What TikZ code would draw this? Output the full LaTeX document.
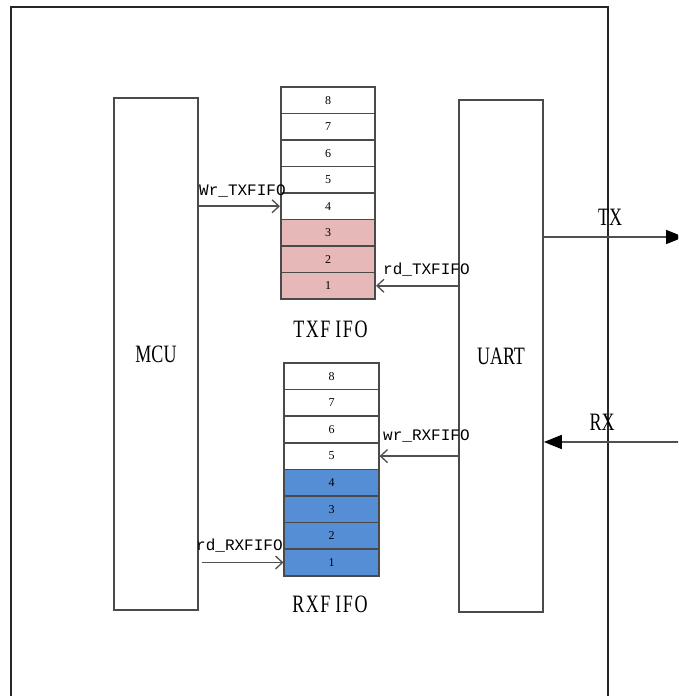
\documentclass[tikz,border=0pt]{standalone}
\usepackage{fontspec}
\setmainfont{Liberation Serif}
\newfontfamily\bigf[FakeStretch=0.72]{Liberation Serif}
\newfontfamily\monof{Liberation Mono}
\usetikzlibrary{arrows.meta}
\definecolor{boxc}{HTML}{4A4A4A}
\definecolor{framec}{HTML}{262626}
\definecolor{arrc}{HTML}{505050}
\definecolor{pinkc}{HTML}{E6B8B7}
\definecolor{bluec}{HTML}{558ED5}
\tikzset{
  blockbox/.style={draw=boxc, line width=1.7pt, minimum width=84pt, minimum height=512pt, inner sep=0pt, font=\bigf\fontsize{25}{25}\selectfont},
  cellbox/.style={draw=boxc, line width=1.6pt, minimum width=94.5pt, minimum height=26.5pt, inner sep=0pt, font=\fontsize{12}{12}\selectfont},
  sigarrow/.style={draw=arrc, line width=1.6pt, -{Straight Barb[length=7pt,width=13pt,line width=1.3pt]}},
  busarrow/.style={draw=arrc, line width=1.7pt, -{Triangle[length=18pt,width=14pt,color=black]}},
  siglabel/.style={inner sep=0pt, anchor=base west, font=\monof\fontsize{16}{16}\selectfont},
  biglabel/.style={inner sep=0pt, font=\bigf\fontsize{25}{25}\selectfont},
}
\begin{document}
\begin{tikzpicture}[x=1pt,y=-1pt]
\useasboundingbox (0,0) rectangle (678,696);
\clip (0,0) rectangle (678,696);
\fill[white] (0,0) rectangle (678,696);
% outer frame
\draw[framec, line width=1.3pt] (11,7) rectangle (608,720);
% blocks
\node[blockbox] (mcu) at (156,354) {MCU};
\node[blockbox] (uart) at (501,356) {UART};
% TXFIFO
\foreach \k in {1,...,8}{
  \pgfmathsetmacro{\yy}{87+(8-\k)*26.5+13.25}
  \ifnum\k<4
    \node[cellbox, fill=pinkc] (tx\k) at (328,\yy) {\k};
  \else
    \node[cellbox, fill=white] (tx\k) at (328,\yy) {\k};
  \fi
}
% RXFIFO
\foreach \k in {1,...,8}{
  \pgfmathsetmacro{\yy}{363+(8-\k)*26.6+13.3}
  \ifnum\k<5
    \node[cellbox, fill=bluec] (rx\k) at (331.5,\yy) {\k};
  \else
    \node[cellbox, fill=white] (rx\k) at (331.5,\yy) {\k};
  \fi
}
\node[biglabel] (txname) at (330.5,329) {T\kern1.5pt X\kern1.5pt F\kern5pt I\kern1.5pt F\kern1.5pt O};
\node[biglabel] (rxname) at (330,604) {R\kern1.5pt X\kern1.5pt F\kern5pt I\kern1.5pt F\kern1.5pt O};
% connectors
\draw[sigarrow] (mcu.east |- tx4.west) -- (tx4.west);
\draw[sigarrow] (uart.west |- tx1.east) -- (tx1.east);
\draw[sigarrow] (uart.west |- rx5.east) -- (rx5.east);
\draw[sigarrow, shorten <=3pt] (mcu.east |- rx1.west) -- (rx1.west);
\coordinate (txend) at (684,237);
\coordinate (rxstart) at (680,442);
\draw[busarrow] (uart.east |- txend) -- (txend);
\draw[busarrow] (rxstart) -- (uart.east |- rxstart);
% labels
\node[siglabel] (lwr) at (199,195) {Wr\_TXFIFO};
\node[siglabel] (lrdtx) at (383,274) {rd\_TXFIFO};
\node[siglabel] (lwrrx) at (383,440) {wr\_RXFIFO};
\node[siglabel] (lrdrx) at (196,550.5) {rd\_RXFIFO};
\node[biglabel, anchor=base] (ltx) at (610,225) {TX};
\node[biglabel, anchor=base] (lrx) at (602,430) {RX};
\end{tikzpicture}
\end{document}
